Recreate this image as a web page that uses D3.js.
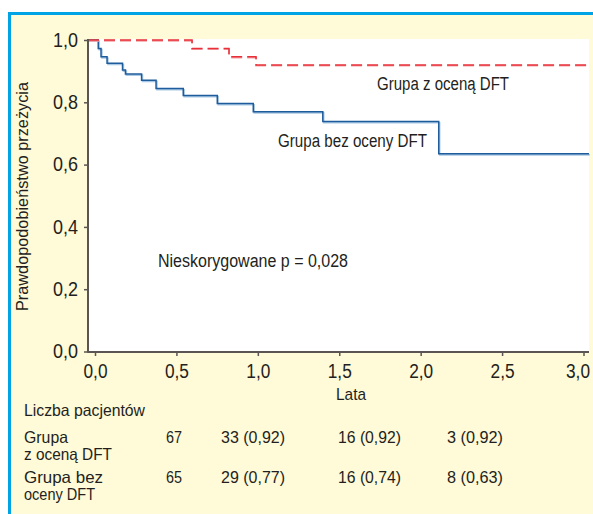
<!DOCTYPE html>
<html><head><meta charset="utf-8">
<script src="https://cdn.jsdelivr.net/npm/d3@7"></script>
<style>
html,body{margin:0;padding:0;background:#fff;}
svg{display:block;}
text{font-family:"Liberation Sans",Arial,"Helvetica",sans-serif;fill:#231f20;}
</style></head>
<body>
<script>
// ---- data ----
const xTicks = [0, 0.5, 1, 1.5, 2, 2.5, 3];
const yTicks = [0, 0.2, 0.4, 0.6, 0.8, 1.0];
const blueTimes = [0, 0.020, 0.037, 0.074, 0.169, 0.187, 0.286, 0.375, 0.542, 0.751, 0.972, 1.399, 2.111];
const blueSurv  = [1.0, 0.973, 0.946, 0.925, 0.904, 0.891, 0.871, 0.844, 0.822, 0.796, 0.770, 0.738, 0.635];
const redTimes  = [0, 0.596, 0.823, 0.989];
const redSurv   = [1.0, 0.973, 0.946, 0.920];
const seriesLabels = ["Grupa z oceną DFT", "Grupa bez oceny DFT"];
const pLabel = "Nieskorygowane p = 0,028";
const yTitle = "Prawdopodobieństwo przeżycia";
const xTitle = "Lata";
const tableTitle = "Liczba pacjentów";
const groupLabels = [["Grupa", "z oceną DFT"], ["Grupa bez", "oceny DFT"]];
const riskCounts = [["67", "33 (0,92)", "16 (0,92)", "3 (0,92)"],
                    ["65", "29 (0,77)", "16 (0,74)", "8 (0,63)"]];

// ---- layout ----
const W = 593, H = 514;
const svg = d3.select("body").append("svg").attr("width", W).attr("height", H);

svg.append("rect").attr("x", 8).attr("y", 12).attr("width", W - 8).attr("height", H - 12).attr("fill", "#fffad8");
svg.append("rect").attr("x", 8).attr("y", 12).attr("width", W - 8).attr("height", 3).attr("fill", "#00a3e4");
svg.append("rect").attr("x", 8).attr("y", 12).attr("width", 3).attr("height", H - 12).attr("fill", "#00a3e4");

const pL = 88, pR = 589, pT = 39, pB = 352;
const x = d3.scaleLinear().domain([0, 3]).range([95, 583.5]);
const y = d3.scaleLinear().domain([0, 1]).range([351.5, 40]);
const tStart = x.invert(pL), tEnd = x.invert(pR);

svg.append("rect").attr("x", pL).attr("y", pT).attr("width", pR - pL).attr("height", pB - pT).attr("fill", "#ffffff");

const fmt = v => d3.format(".1f")(v).replace(".", ",");

// condensed text helper: real text, compressed horizontally to the reference width
function txt(px, py, s, size, w, anchor) {
  return svg.append("text").attr("x", px).attr("y", py).attr("font-size", size)
    .attr("text-anchor", anchor || "start")
    .attr("textLength", w).attr("lengthAdjust", "spacingAndGlyphs").text(s);
}

// curves
function pts(times, surv) {
  const p = times.map((t, i) => [i === 0 ? tStart : t, surv[i]]);
  p.push([tEnd, surv[surv.length - 1]]);
  return p;
}
const line = d3.line().x(d => x(d[0])).y(d => y(d[1])).curve(d3.curveStepAfter);

const bluePts = pts(blueTimes, blueSurv);
svg.append("path").attr("d", line(bluePts)).attr("fill", "none")
  .attr("stroke", "#a9c8e4").attr("stroke-width", 1.6).attr("transform", "translate(0.9,1.2)");
svg.append("path").attr("d", line(bluePts)).attr("fill", "none")
  .attr("stroke", "#1f5c9c").attr("stroke-width", 1.5);

const redPts = pts(redTimes, redSurv);
svg.append("path").attr("d", line(redPts)).attr("fill", "none")
  .attr("stroke", "#f4a3a6").attr("stroke-width", 1.6).attr("stroke-dasharray", "11,5").attr("transform", "translate(0,0.9)");
svg.append("path").attr("d", line(redPts)).attr("fill", "none")
  .attr("stroke", "#e8303a").attr("stroke-width", 1.5).attr("stroke-dasharray", "11,5");

// axes
const yAxis = d3.axisLeft(y).tickValues(yTicks).tickFormat(fmt).tickSize(4).tickPadding(6);
const gy = svg.append("g").attr("transform", `translate(${pL},0)`).call(yAxis);
gy.select(".domain").remove();
gy.selectAll(".tick line").attr("stroke", "#5a5553").attr("stroke-width", 1.5);
gy.selectAll(".tick text").attr("font-size", 19.5).attr("fill", "#231f20")
  .attr("font-family", '"Liberation Sans",Arial,sans-serif')
  .attr("textLength", 25).attr("lengthAdjust", "spacingAndGlyphs");

const xAxis = d3.axisBottom(x).tickValues(xTicks).tickFormat(fmt).tickSize(4).tickPadding(8);
const gx = svg.append("g").attr("transform", `translate(0,${pB})`).call(xAxis);
gx.select(".domain").remove();
gx.selectAll(".tick line").attr("stroke", "#5a5553").attr("stroke-width", 1.5);
gx.selectAll(".tick text").attr("font-size", 19.5).attr("fill", "#231f20")
  .attr("font-family", '"Liberation Sans",Arial,sans-serif')
  .attr("textLength", 24).attr("lengthAdjust", "spacingAndGlyphs");
// last label kept inside the panel, as in the reference
gx.selectAll(".tick text").filter(d => d === xTicks[xTicks.length - 1])
  .attr("text-anchor", "end").attr("x", pR - x(xTicks[xTicks.length - 1]) + 0.5);

svg.append("line").attr("x1", pL).attr("x2", pL).attr("y1", pT).attr("y2", pB + 0.75)
  .attr("stroke", "#5a5553").attr("stroke-width", 2);
svg.append("line").attr("x1", pL).attr("x2", pR).attr("y1", pB).attr("y2", pB)
  .attr("stroke", "#5a5553").attr("stroke-width", 2);

// titles
svg.append("text").attr("transform", `translate(28,196.5) rotate(-90)`)
  .attr("text-anchor", "middle").attr("font-size", 17)
  .attr("textLength", 229).attr("lengthAdjust", "spacingAndGlyphs").text(yTitle);
txt(351, 400, xTitle, 17, 30, "middle");

txt(377, 90, seriesLabels[0], 18, 132);
txt(278, 147, seriesLabels[1], 18, 149);
txt(158, 267, pLabel, 18, 190);

// risk table
txt(24, 416, tableTitle, 16.5, 121);
const colX = [166, 221, 338, 447];
const rowY = [443, 483];
const groupW = [[44, 88], [79, 71]];
const cellW = [[16, 64, 63, 56], [16, 64, 63, 56]];
groupLabels.forEach((g, r) => {
  g.forEach((s, k) => txt(24, rowY[r] + k * 17, s, 16.5, groupW[r][k]));
  riskCounts[r].forEach((s, c) => txt(colX[c], rowY[r], s, 16.5, cellW[r][c]));
});
</script>
</body></html>
